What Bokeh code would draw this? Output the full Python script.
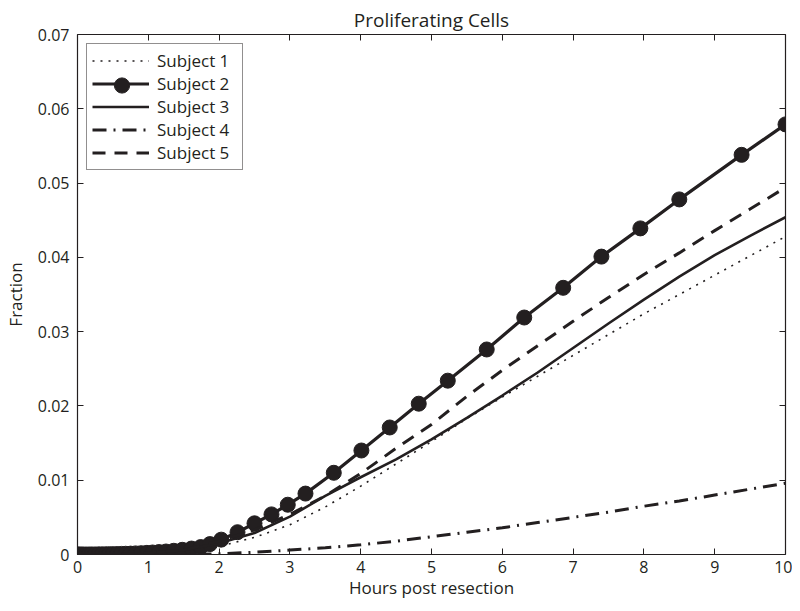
from bokeh.plotting import figure
from bokeh.models import (Legend, LegendItem, LinearAxis, FixedTicker,
                          NumeralTickFormatter, Range1d, CustomJSTickFormatter)
from bokeh.embed import file_html
from bokeh.resources import INLINE

# ---- data ----
t_grid = [0, 0.5, 1, 1.5, 2, 2.5, 3, 3.5, 4, 4.5, 5, 5.5, 6, 6.5, 7, 7.5, 8, 8.5, 9, 9.5, 10]
subject1 = [0, 0, 0.0001, 0.0004, 0.0011, 0.0023, 0.0040, 0.0064, 0.0092, 0.0122, 0.0152,
            0.0183, 0.0212, 0.0240, 0.0268, 0.0296, 0.0324, 0.0350, 0.0376, 0.0402, 0.0428]
subject3 = [0, 0, 0.0002, 0.0006, 0.0015, 0.0029, 0.0051, 0.0079, 0.0104, 0.0128, 0.0155,
            0.0184, 0.0214, 0.0245, 0.0278, 0.0311, 0.0343, 0.0374, 0.0403, 0.0429, 0.0454]
subject4 = [0, 0, 0, 0, 0.0001, 0.0003, 0.0006, 0.0009, 0.0013, 0.0018, 0.0024,
            0.0030, 0.0036, 0.0043, 0.0050, 0.0057, 0.0065, 0.0072, 0.0080, 0.0088, 0.0096]
subject5 = [0, 0, 0.0002, 0.0006, 0.0018, 0.0033, 0.0054, 0.0079, 0.0109, 0.0143, 0.0175,
            0.0213, 0.0248, 0.0281, 0.0314, 0.0346, 0.0377, 0.0406, 0.0436, 0.0465, 0.0494]

t_s2 = [0, 0.02, 0.05, 0.08, 0.12, 0.16, 0.2, 0.25, 0.3, 0.35, 0.4, 0.45, 0.5, 0.56, 0.62,
        0.68, 0.75, 0.82, 0.9, 0.98, 1.06, 1.15, 1.25, 1.36, 1.48, 1.61, 1.74, 1.87, 2.03,
        2.26, 2.50, 2.74, 2.97, 3.22, 3.62, 4.01, 4.41, 4.82, 5.23, 5.78, 6.31, 6.86, 7.40,
        7.95, 8.50, 9.38, 10]
subject2 = [0, 0, 0, 0, 0, 0, 0.00001, 0.00001, 0.00002, 0.00002, 0.00003, 0.00004, 0.00005,
            0.00006, 0.00008, 0.0001, 0.00012, 0.00015, 0.00018, 0.00022, 0.00027, 0.00033,
            0.0004, 0.0005, 0.00063, 0.0008, 0.001, 0.0014, 0.002, 0.003, 0.0042, 0.0054,
            0.0067, 0.0082, 0.011, 0.014, 0.0171, 0.0203, 0.0234, 0.0276, 0.0319, 0.0359,
            0.0401, 0.0439, 0.0478, 0.0538, 0.0579]

x_ticks = [0, 1, 2, 3, 4, 5, 6, 7, 8, 9, 10]
y_ticks = [0, 0.01, 0.02, 0.03, 0.04, 0.05, 0.06, 0.07]
labels = ["Subject 1", "Subject 2", "Subject 3", "Subject 4", "Subject 5"]

FONT = "Open Sans"
INK = "#231f20"

X0, X1, Y0, Y1 = 0, 10, 0, 0.07
BL, BR, BT, BB = 77, 7, 34, 49
W, H = 792, 603
FW, FH = W - BL - BR, H - BT - BB

p = figure(width=W, height=H, output_backend="svg", toolbar_location=None,
           x_range=Range1d(X0, X1), y_range=Range1d(Y0, Y1),
           min_border_left=BL, min_border_right=BR, min_border_top=BT, min_border_bottom=BB,
           title="Proliferating Cells", x_axis_label="Hours post resection",
           y_axis_label="Fraction")
p.title.align = "center"
p.title.text_font = FONT
p.title.text_font_size = "19px"
p.title.text_font_style = "normal"
p.title.text_color = INK
p.title.standoff = 4
p.xgrid.visible = False
p.ygrid.visible = False
p.outline_line_color = None
p.background_fill_color = "white"
p.border_fill_color = "white"

for ax in (p.xaxis[0], p.yaxis[0]):
    ax.major_tick_in = 6
    ax.major_tick_out = 0
    ax.minor_tick_line_color = None
    ax.axis_line_color = INK
    ax.major_tick_line_color = INK
    ax.major_label_text_font = FONT
    ax.major_label_text_font_size = "16px"
    ax.major_label_text_color = INK
    ax.axis_label_text_font = FONT
    ax.axis_label_text_font_size = "17px"
    ax.axis_label_text_font_style = "normal"
    ax.axis_label_text_color = INK
    ax.axis_line_width = 1.2
p.xaxis[0].ticker = FixedTicker(ticks=x_ticks)
p.yaxis[0].ticker = FixedTicker(ticks=y_ticks)
p.yaxis[0].formatter = NumeralTickFormatter(format="0.[00]")
p.xaxis[0].major_label_standoff = 6
p.yaxis[0].major_label_standoff = 8
p.xaxis[0].axis_label_standoff = 0
p.yaxis[0].axis_label_standoff = 8

blank = CustomJSTickFormatter(code="return ''")
top = LinearAxis(ticker=FixedTicker(ticks=x_ticks), major_tick_in=6, major_tick_out=0,
                 minor_tick_line_color=None, formatter=blank, major_label_standoff=0,
                 axis_line_color=INK, major_tick_line_color=INK, axis_line_width=1.2)
right = LinearAxis(ticker=FixedTicker(ticks=y_ticks), major_tick_in=6, major_tick_out=0,
                   minor_tick_line_color=None, formatter=blank, major_label_standoff=0,
                   axis_line_color=INK, major_tick_line_color=INK, axis_line_width=1.2)
p.add_layout(top, "above")
p.add_layout(right, "right")

r1 = p.line(t_grid, subject1, line_color=INK, line_width=1.6, line_dash="2 6")
r2l = p.line(t_s2, subject2, line_color=INK, line_width=3.2)
r2m = p.scatter(t_s2, subject2, size=15, fill_color=INK, line_color=INK, marker="circle")
r3 = p.line(t_grid, subject3, line_color=INK, line_width=2.6)
r4 = p.line(t_grid, subject4, line_color=INK, line_width=3, line_dash="14 7 2 7")
r5 = p.line(t_grid, subject5, line_color=INK, line_width=3, line_dash="13 9")

# legend layout
LEG_X, LEG_PAD, GLW, GLH, SP = 9, 5, 57, 23, 0
n_items = len(labels)
leg_h = 2 * LEG_PAD + n_items * GLH + (n_items - 1) * SP
LEG_TOP = 11  # px below top of frame
legend = Legend(items=[
    LegendItem(label=labels[0], renderers=[r1]),
    LegendItem(label=labels[1], renderers=[r2l]),
    LegendItem(label=labels[2], renderers=[r3]),
    LegendItem(label=labels[3], renderers=[r4]),
    LegendItem(label=labels[4], renderers=[r5]),
], location=(LEG_X, FH - LEG_TOP - leg_h))
legend.label_text_font = FONT
legend.label_text_font_size = "17px"
legend.label_text_color = INK
legend.glyph_width = GLW
legend.glyph_height = GLH
legend.label_height = GLH
legend.label_width = 80
legend.spacing = SP
legend.padding = LEG_PAD
legend.margin = 0
legend.label_standoff = 8
legend.border_line_color = INK
legend.border_line_width = 1.2
legend.background_fill_color = "white"
legend.background_fill_alpha = 1
p.add_layout(legend, "center")

# second, glyph-only legend that draws the large Subject 2 marker on top
MK_H = 38
mk_center = LEG_TOP + LEG_PAD + GLH + GLH / 2
legend2 = Legend(items=[LegendItem(label=" ", renderers=[r2m])],
                 location=(LEG_X + LEG_PAD + 2, FH - (mk_center - MK_H / 2) - MK_H))
legend2.glyph_width = GLW
legend2.glyph_height = MK_H
legend2.label_height = MK_H
legend2.label_width = 0
legend2.label_standoff = 0
legend2.padding = 0
legend2.margin = 0
legend2.spacing = 0
legend2.border_line_color = None
legend2.background_fill_alpha = 0
legend2.label_text_font_size = "10px"
p.add_layout(legend2, "center")

open("out.html", "w").write(file_html(p, INLINE))
